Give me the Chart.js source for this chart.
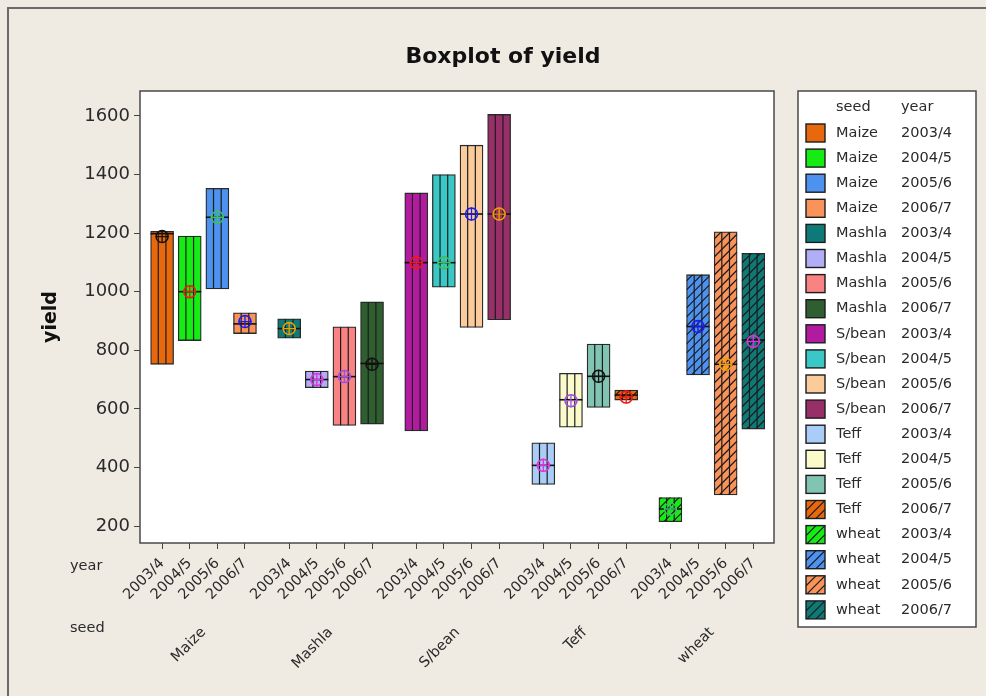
<!DOCTYPE html>
<html>
<head>
<meta charset="utf-8">
<script src="https://cdn.jsdelivr.net/npm/chart.js@4"></script>
<style>
  html, body { margin: 0; padding: 0; background: #EFEBE3; }
  canvas { display: block; }
</style>
</head>
<body>
<canvas id="c" width="986" height="696"></canvas>
<script>
// ---- data -------------------------------------------------------------
const seeds = ['Maize', 'Mashla', 'S/bean', 'Teff', 'wheat'];
const years = ['2003/4', '2004/5', '2005/6', '2006/7'];
// one box per seed x year, in seed-major order
const boxLow  = [752, 833, 1009, 857,  841, 672, 543, 548,  525, 1015, 878, 904,  342, 537, 605, 630,  215, 716, 306, 531];
const boxHigh = [1206, 1190, 1353, 928,  907, 729, 880, 965,  1337, 1400, 1500, 1605,  484, 721, 821, 664,  297, 1058, 1204, 1131];
const medians = [1198, 1000, 1254, 890,  874, 700, 710, 755,  1099, 1099, 1265, 1265,  407, 631, 711, 647,  258, 881, 752, 835];
const means   = [1188, 1000, 1254, 898,  874, 700, 710, 752,  1099, 1099, 1265, 1265,  407, 628, 711, 640,  258, 881, 752, 830];
const yTicks  = [200, 400, 600, 800, 1000, 1200, 1400, 1600];

// ---- styling ----------------------------------------------------------
const FONT = '"DejaVu Sans", Verdana, sans-serif';
const FILLS = ['#E8680E', '#14EC14', '#4D92EE', '#F9935A', '#0E7A78',
               '#B1AEF7', '#F98282', '#2F5E30', '#B21AA0', '#3AC8C6',
               '#FCCB9B', '#982F68', '#A9CDF6', '#FBFACB', '#80C4B1'];
const HATCH_FROM = FILLS.length;          // fills repeat with a slash hatch after this
const MARKS = ['#111111', '#F01818', '#3CC063', '#1A1AF0', '#F0A000', '#E030E0', '#A050E0'];
const GROUP_STEP = 4.6;                   // horizontal distance between seed groups (in box slots)

const entries = [];
seeds.forEach((s, g) => years.forEach((yr, j) => entries.push({ seed: s, year: yr, x: g * GROUP_STEP + j })));
const groupCentres = seeds.map((s, g) => g * GROUP_STEP + (years.length - 1) / 2);

const fillColors = entries.map((e, i) => FILLS[i % FILLS.length]);
const markColors = entries.map((e, i) => MARKS[i % MARKS.length]);
const hatched = entries.map((e, i) => i >= HATCH_FROM);

// ---- helpers ----------------------------------------------------------
function slashHatch(ctx, left, top, w, h, step) {
  ctx.beginPath();
  for (let yy = top + h + w; yy > top - step; yy -= step) {
    ctx.moveTo(left, yy);
    ctx.lineTo(left + w, yy - w);
  }
  ctx.stroke();
}

// ---- plugins ----------------------------------------------------------
const backdrop = {
  id: 'backdrop',
  beforeDraw(chart) {
    const { ctx, chartArea: a } = chart;
    ctx.save();
    ctx.fillStyle = '#EFEBE3';
    ctx.fillRect(0, 0, chart.width, chart.height);
    ctx.strokeStyle = '#6a6a6a';
    ctx.lineWidth = 2;
    ctx.strokeRect(8, 8, chart.width + 20, chart.height + 20);
    ctx.fillStyle = '#ffffff';
    ctx.fillRect(a.left, a.top, a.right - a.left, a.bottom - a.top);
    ctx.restore();
  },
  afterDraw(chart) {
    const { ctx, chartArea: a } = chart;
    ctx.save();
    ctx.strokeStyle = '#4a4a4a';
    ctx.lineWidth = 1.5;
    ctx.strokeRect(a.left, a.top, a.right - a.left, a.bottom - a.top);
    // title
    ctx.fillStyle = '#111';
    ctx.font = 'bold 22px ' + FONT;
    ctx.textAlign = 'center';
    ctx.textBaseline = 'middle';
    ctx.fillText('Boxplot of yield', 503, 57);
    // row captions of the two-level x axis
    ctx.font = '14.5px ' + FONT;
    ctx.fillStyle = '#2a2a2a';
    ctx.textAlign = 'left';
    const xs = chart.scales.x, xg = chart.scales.xSeed;
    ctx.fillText('year', 70, xs.top + 23);
    ctx.fillText('seed', 70, xg.top + 20);
    ctx.restore();
  }
};

const boxHatch = {
  id: 'boxHatch',
  afterDatasetDraw(chart, args) {
    if (args.meta.type !== 'bar') return;
    const ctx = chart.ctx;
    args.meta.data.forEach((bar, i) => {
      const { x, y, base, width } = bar.getProps(['x', 'y', 'base', 'width'], true);
      const left = x - width / 2, top = Math.min(y, base), h = Math.abs(base - y);
      ctx.save();
      ctx.beginPath();
      ctx.rect(left, top, width, h);
      ctx.clip();
      ctx.strokeStyle = '#1c1c1c';
      ctx.lineWidth = 1.2;
      ctx.beginPath();
      for (const k of [1, 2]) {
        const xx = left + width * k / 3;
        ctx.moveTo(xx, top);
        ctx.lineTo(xx, top + h);
      }
      ctx.stroke();
      if (hatched[i]) slashHatch(ctx, left, top, width, h, 9);
      ctx.restore();
    });
  }
};

const sideLegend = {
  id: 'sideLegend',
  afterDraw(chart) {
    const ctx = chart.ctx;
    const L = 798, T = 91, R = 976, B = 627;
    ctx.save();
    ctx.fillStyle = '#ffffff';
    ctx.fillRect(L, T, R - L, B - T);
    ctx.strokeStyle = '#4a4a4a';
    ctx.lineWidth = 1.5;
    ctx.strokeRect(L, T, R - L, B - T);
    ctx.font = '14.5px ' + FONT;
    ctx.fillStyle = '#2a2a2a';
    ctx.textAlign = 'left';
    ctx.textBaseline = 'middle';
    ctx.fillText('seed', 836, 107);
    ctx.fillText('year', 901, 107);
    entries.forEach((e, i) => {
      const cy = 133 + i * 25.1;
      const sx = 806, sy = cy - 9, sw = 19, sh = 18;
      ctx.fillStyle = fillColors[i];
      ctx.fillRect(sx, sy, sw, sh);
      if (hatched[i]) {
        ctx.save();
        ctx.beginPath();
        ctx.rect(sx, sy, sw, sh);
        ctx.clip();
        ctx.strokeStyle = '#1c1c1c';
        ctx.lineWidth = 1.2;
        slashHatch(ctx, sx, sy, sw, sh, 9);
        ctx.restore();
      }
      ctx.strokeStyle = '#1c1c1c';
      ctx.lineWidth = 1.4;
      ctx.strokeRect(sx, sy, sw, sh);
      ctx.fillStyle = '#2a2a2a';
      ctx.fillText(e.seed, 836, cy);
      ctx.fillText(e.year, 901, cy);
    });
    ctx.restore();
  }
};

// ---- chart ------------------------------------------------------------
new Chart(document.getElementById('c'), {
  type: 'bar',
  data: {
    datasets: [
      {
        type: 'scatter', label: 'mean',
        data: entries.map((e, i) => ({ x: e.x, y: means[i] })),
        pointStyle: 'circle', pointRadius: 6,
        pointBorderColor: markColors, pointBackgroundColor: 'rgba(0,0,0,0)',
        pointBorderWidth: 1.5, order: 0
      },
      {
        type: 'scatter', label: 'mean cross',
        data: entries.map((e, i) => ({ x: e.x, y: means[i] })),
        pointStyle: 'cross', pointRadius: 6.5,
        pointBorderColor: markColors, pointBorderWidth: 1.3, order: 1
      },
      {
        type: 'scatter', label: 'median',
        data: entries.map((e, i) => ({ x: e.x, y: medians[i] })),
        pointStyle: 'line', pointRadius: 11.5,
        pointBorderColor: '#111', pointBorderWidth: 1.6, order: 2
      },
      {
        type: 'bar', label: 'yield',
        data: entries.map((e, i) => ({ x: e.x, y: [boxLow[i], boxHigh[i]] })),
        backgroundColor: fillColors, borderColor: '#2a2a2a', borderWidth: 1.3,
        borderSkipped: false, barThickness: 23, grouped: false, order: 3
      }
    ]
  },
  options: {
    responsive: false,
    animation: false,
    events: [],
    layout: { padding: { top: 91, left: 0, right: 212, bottom: 20 } },
    plugins: { legend: { display: false }, tooltip: { enabled: false }, title: { display: false } },
    scales: {
      x: {
        type: 'linear', position: 'bottom', axis: 'x', weight: 0,
        min: -0.8, max: 22.15, offset: false,
        grid: { drawOnChartArea: false, drawTicks: true, tickLength: 6, tickColor: '#444', offset: false },
        border: { display: false },
        afterBuildTicks: s => { s.ticks = entries.map(e => ({ value: e.x })); },
        afterFit: s => { s.height = 65; },
        ticks: {
          autoSkip: false, minRotation: 45, maxRotation: 45, padding: 6,
          color: '#2a2a2a', font: { family: FONT, size: 14.5 },
          callback: (v, i) => entries[i] ? entries[i].year : ''
        }
      },
      xSeed: {
        type: 'linear', position: 'bottom', axis: 'x', weight: 1,
        min: -0.8, max: 22.15, offset: false,
        grid: { display: false, offset: false },
        border: { display: false },
        afterBuildTicks: s => { s.ticks = groupCentres.map(v => ({ value: v })); },
        afterFit: s => { s.height = 68; },
        ticks: {
          autoSkip: false, minRotation: 45, maxRotation: 45, padding: 8,
          color: '#2a2a2a', font: { family: FONT, size: 14.5 },
          callback: (v, i) => seeds[i] || ''
        }
      },
      y: {
        type: 'linear', position: 'left',
        min: 142, max: 1685,
        grid: { drawOnChartArea: false, drawTicks: true, tickLength: 6, tickColor: '#444' },
        border: { display: false },
        afterBuildTicks: s => { s.ticks = yTicks.map(v => ({ value: v })); },
        afterFit: s => { s.width = 140; },
        ticks: {
          padding: 4, color: '#2a2a2a', font: { family: FONT, size: 18 },
          callback: v => String(v)
        },
        title: {
          display: true, text: 'yield', color: '#111',
          font: { family: FONT, size: 19, weight: 'bold' },
          padding: { top: 40, bottom: 0 }
        }
      }
    }
  },
  plugins: [backdrop, boxHatch, sideLegend]
});
</script>
</body>
</html>
